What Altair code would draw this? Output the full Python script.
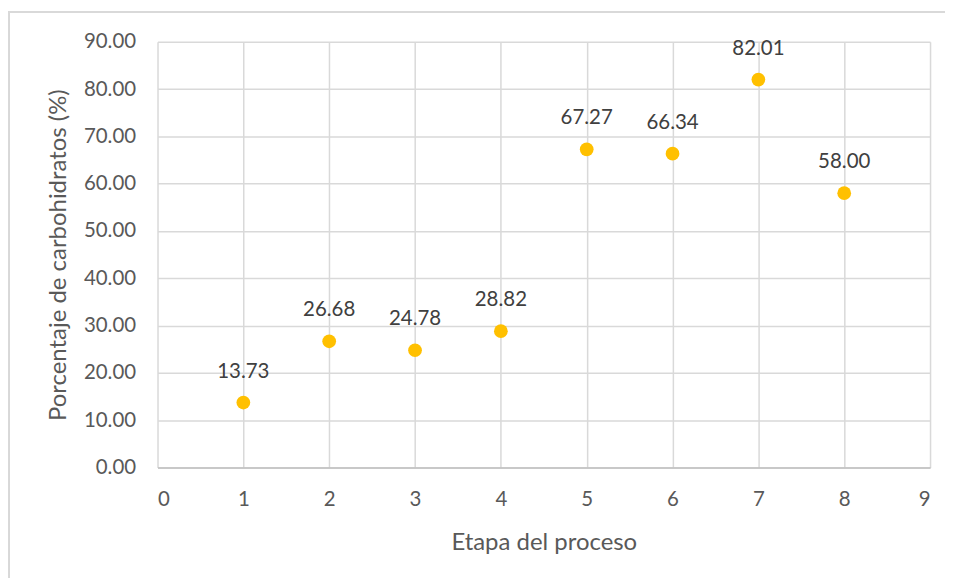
import altair as alt
import pandas as pd

etapas = [1, 2, 3, 4, 5, 6, 7, 8]
carbohidratos = [13.73, 26.68, 24.78, 28.82, 67.27, 66.34, 82.01, 58.00]
etiquetas = ["13.73", "26.68", "24.78", "28.82", "67.27", "66.34", "82.01", "58.00"]

df = pd.DataFrame({"etapa": etapas, "valor": carbohidratos, "etiqueta": etiquetas})

FONT = "Lato"
W, H = 775, 427

x_enc = alt.X("etapa:Q",
              scale=alt.Scale(domain=[0, 9], nice=False, zero=False),
              axis=alt.Axis(values=list(range(10)), format="d", title="Etapa del proceso",
                            labelFontSize=20.5, titleFontSize=24, labelPadding=22,
                            titlePadding=21, ticks=False, domainColor="#bfbfbf",
                            domainWidth=1.5, grid=True))
y_enc = alt.Y("valor:Q",
              scale=alt.Scale(domain=[0, 90], nice=False),
              axis=alt.Axis(values=list(range(0, 91, 10)), format=".2f",
                            title="Porcentaje de carbohidratos (%)",
                            labelFontSize=20.5, titleFontSize=24, labelPadding=22,
                            titlePadding=13, ticks=False, domain=False, grid=True))

border = alt.Chart(df).mark_rect(fill=None, stroke="#d9d9d9", strokeWidth=1.5).encode(
    x=alt.value(-149), x2=alt.value(W + 40), y=alt.value(-30), y2=alt.value(H + 140)
)

points = alt.Chart(df).mark_circle(size=190, color="#FFC000", opacity=1).encode(x=x_enc, y=y_enc)

labels = alt.Chart(df).mark_text(dy=-31, fontSize=20.5, font=FONT, color="#404040").encode(
    x="etapa:Q", y="valor:Q", text="etiqueta:N"
)

chart = alt.layer(border, points, labels).properties(
    width=W, height=H,
    autosize=alt.AutoSizeParams(type="none"),
    padding={"left": 150, "top": 33, "right": 15, "bottom": 110},
    background="white",
).configure_view(stroke=None).configure_axis(
    gridColor="#d9d9d9", gridWidth=1.5, labelColor="#595959", titleColor="#595959",
    labelFont=FONT, titleFont=FONT, titleFontWeight="normal"
)

chart.save("out.html", embed_options={"renderer": "svg", "actions": False})
